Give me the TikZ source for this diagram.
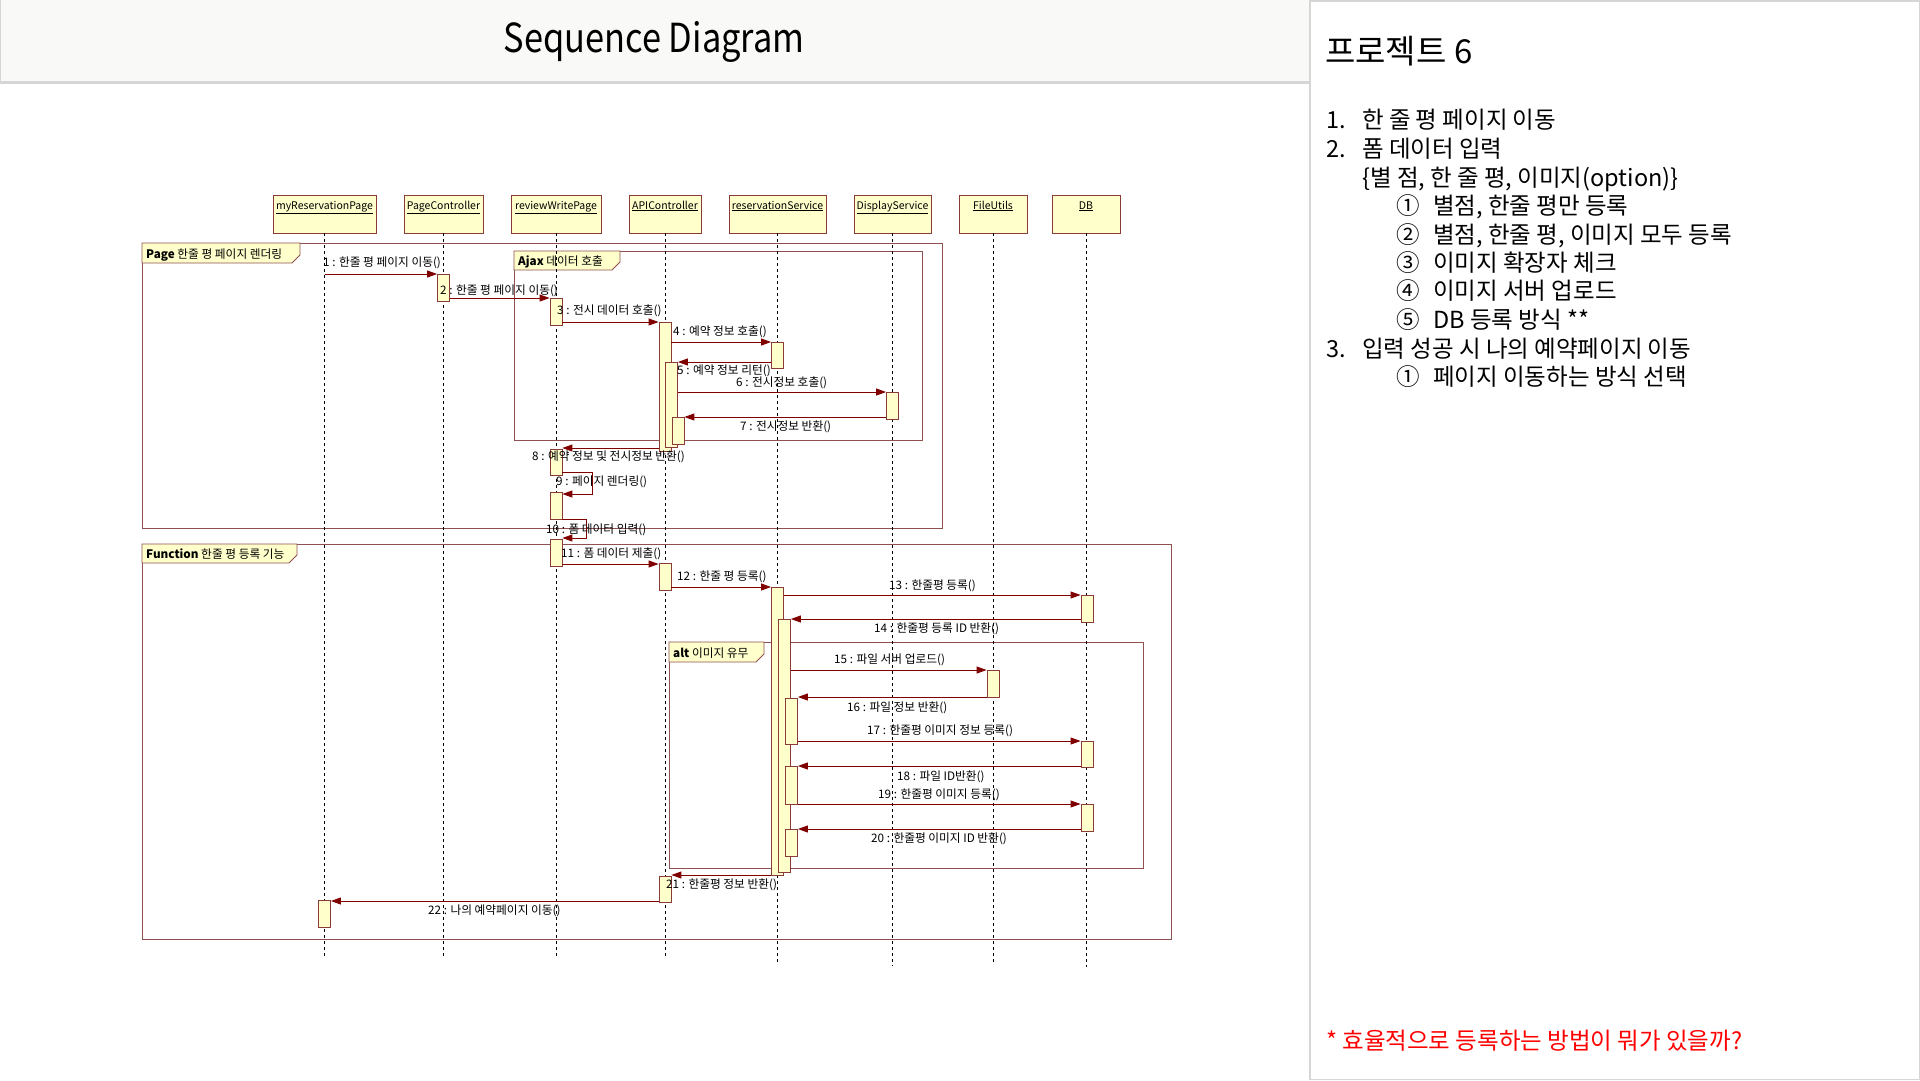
\documentclass[tikz,border=0pt]{standalone}
\usepackage{fontspec}
\setmainfont{Noto Sans CJK KR}
\usetikzlibrary{arrows.meta, positioning}
\definecolor{sqfill}{HTML}{FFFFCC}
\definecolor{sqline}{HTML}{8B3A3A}
\definecolor{sqmsg}{HTML}{800000}
\definecolor{sqframe}{HTML}{8F5050}
\definecolor{panelgrey}{HTML}{D6D6D6}
\definecolor{titlebg}{HTML}{F9F9F8}
\definecolor{notered}{HTML}{FF0000}
\tikzset{
  head/.style={draw=sqline, fill=sqfill, line width=0.9pt, inner sep=0pt, minimum height=38pt,
               text height=10pt, text depth=20pt, font=\fontsize{10.5}{12}\selectfont},
  act/.style={draw=sqline, fill=sqfill, line width=0.8pt, minimum width=12pt, inner sep=0pt},
  life/.style={black, line width=0.8pt, dash pattern=on 3pt off 3pt},
  msg/.style={sqmsg, line width=0.9pt, -{Triangle[length=10pt, width=7pt]}},
  lbl/.style={anchor=base west, inner sep=0pt, font=\fontsize{11.7}{13}\selectfont},
  fr/.style={draw=sqframe, line width=0.9pt},
  memo/.style={anchor=base west, inner sep=0pt, font=\fontsize{23.5}{27}\selectfont}
}

\begin{document}
\begin{tikzpicture}[x=1pt, y=-1pt]
  \useasboundingbox (0,0) rectangle (1920,1080);
  \fill[white] (0,0) rectangle (1920,1080);
  % title bar
  \fill[titlebg] (0,0) rectangle (1310,82);
  \draw[panelgrey, line width=3pt] (0,82) -- (1310,82);
  \draw[panelgrey, line width=1pt] (0.5,0) -- (0.5,82);
  \node[anchor=base, inner sep=0pt, xscale=0.86, font=\fontsize{40}{44}\selectfont] (title) at (654,52) {Sequence Diagram};
  % memo panel
  \draw[panelgrey, line width=1.5pt] (1310,0.75) rectangle (1919.25,1079.25);
  \node[anchor=base west, inner sep=0pt, font=\fontsize{33}{38}\selectfont] (ptitle) at (1325,63) {프로젝트 6};
  \node[memo] (n1) at (1326,128) {1.};
  \node[memo] (i1) at (1362,128) {한 줄 평 페이지 이동};
  \node[memo] (n2) at (1326,157) {2.};
  \node[memo] (i2) at (1362,157) {폼 데이터 입력};
  \node[memo] (i2a) at (1362,186) {\{별 점, 한 줄 평, 이미지(option)\}};
  \node[memo] (c21) at (1396,214) {①};
  \node[memo] (i21) at (1433,214) {별점, 한줄 평만 등록};
  \node[memo] (c22) at (1396,243) {②};
  \node[memo] (i22) at (1433,243) {별점, 한줄 평, 이미지 모두 등록};
  \node[memo] (c23) at (1396,271) {③};
  \node[memo] (i23) at (1433,271) {이미지 확장자 체크};
  \node[memo] (c24) at (1396,299) {④};
  \node[memo] (i24) at (1433,299) {이미지 서버 업로드};
  \node[memo] (c25) at (1396,328) {⑤};
  \node[memo] (i25) at (1433,328) {DB 등록 방식 **};
  \node[memo] (n3) at (1326,357) {3.};
  \node[memo] (i3) at (1362,357) {입력 성공 시 나의 예약페이지 이동};
  \node[memo] (c31) at (1396,385) {①};
  \node[memo] (i31) at (1433,385) {페이지 이동하는 방식 선택};
  \node[memo, text=notered] (note) at (1326,1049) {* 효율적으로 등록하는 방법이 뭐가 있을까?};

  % frames
  \draw[fr] (142,243) rectangle (942,528);
  \draw[fr, fill=sqfill] (142,243) -- (300,243) -- (300,255) -- (292,263) -- (142,263) -- cycle;
  \node[lbl] (fpage) at (146,258) {\textbf{Page} 한줄 평 페이지 렌더링};
  \draw[fr] (514,251) rectangle (922,440);
  \draw[fr, fill=sqfill] (514,251) -- (620,251) -- (620,262) -- (612,270) -- (514,270) -- cycle;
  \node[lbl] (fajax) at (518,265) {\textbf{Ajax} 데이터 호출};
  \draw[fr] (142,544) rectangle (1171,939);
  \draw[fr, fill=sqfill] (142,544) -- (297,544) -- (297,555) -- (289,563) -- (142,563) -- cycle;
  \node[lbl] (ffunc) at (146,558) {\textbf{Function} 한줄 평 등록 기능};
  \draw[fr] (669,642) rectangle (1143,868);
  \draw[fr, fill=sqfill] (669,642) -- (764,642) -- (764,654) -- (756,662) -- (669,662) -- cycle;
  \node[lbl] (falt) at (673,657) {\textbf{alt} 이미지 유무};

  % lifelines
  \node[head, minimum width=103pt] (h1) at (324.5,214) {\underline{myReservationPage}};
  \node[head, minimum width=79pt] (h2) at (443.5,214) {\underline{PageController}};
  \node[head, minimum width=90pt] (h3) at (556,214) {\underline{reviewWritePage}};
  \node[head, minimum width=72pt] (h4) at (665,214) {\underline{APIController}};
  \node[head, minimum width=97pt] (h5) at (777.5,214) {\underline{reservationService}};
  \node[head, minimum width=77pt] (h6) at (892.5,214) {\underline{DisplayService}};
  \node[head, minimum width=68pt] (h7) at (993,214) {\underline{FileUtils}};
  \node[head, minimum width=68pt] (h8) at (1086,214) {\underline{DB}};
  \foreach \n/\e in {h1/956,h2/956,h3/956,h4/956,h5/962,h6/966,h7/964,h8/967}
    \draw[life] (\n.south) -- (\n.south |- 0,\e);

  % activations
  \node[act, minimum height=27pt] (r1) at (324.5,913.5) {};
  \node[act, minimum height=27pt] (p1) at (443.5,287.5) {};
  \node[act, minimum height=27pt] (w1) at (556,311.5) {};
  \node[act, minimum height=26pt] (w2) at (556,462) {};
  \node[act, minimum height=27pt] (w3) at (556,505.5) {};
  \node[act, minimum height=27pt] (w4) at (556,552.5) {};
  \node[act, minimum height=129pt] (c1) at (665,386.5) {};
  \node[act, minimum height=85pt] (c2) at (671.5,404.5) {};
  \node[act, minimum height=27pt] (c3) at (678,430.5) {};
  \node[act, minimum height=27pt] (c4) at (665,576.5) {};
  \node[act, minimum height=26pt] (c5) at (665,889) {};
  \node[act, minimum height=26pt] (s1) at (777.5,355) {};
  \node[act, minimum height=288pt] (s2) at (777.5,731) {};
  \node[act, minimum height=253pt] (s3) at (784.5,745.5) {};
  \node[act, minimum height=46pt] (s4) at (791.5,721) {};
  \node[act, minimum height=38pt] (s5) at (791.5,785) {};
  \node[act, minimum height=27pt] (s6) at (791.5,842.5) {};
  \node[act, minimum height=27pt] (d1) at (892.5,405.5) {};
  \node[act, minimum height=27pt] (f1) at (993,683.5) {};
  \node[act, minimum height=27pt] (b1) at (1087,608.5) {};
  \node[act, minimum height=26pt] (b2) at (1087,754) {};
  \node[act, minimum height=27pt] (b3) at (1087,817.5) {};

  % page rendering
  \draw[msg] (h1.south |- 0,274) -- (p1.west |- 0,274);
  \node[lbl] (l1) at (323,266) {1 : 한줄 평 페이지 이동()};
  \draw[msg] (p1.east |- 0,298) -- (w1.west |- 0,298);
  \node[lbl] (l2) at (440,294) {2 : 한줄 평 페이지 이동()};
  \draw[msg] (w1.east |- 0,322) -- (c1.west |- 0,322);
  \node[lbl] (l3) at (557,314) {3 : 전시 데이터 호출()};
  \draw[msg] (c1.east |- 0,342) -- (s1.west |- 0,342);
  \node[lbl] (l4) at (673,335) {4 : 예약 정보 호출()};
  \draw[msg] (s1.west |- 0,362) -- (c2.east |- 0,362);
  \node[lbl] (l5) at (677,374) {5 : 예약 정보 리턴()};
  \draw[msg] (c2.east |- 0,392) -- (d1.west |- 0,392);
  \node[lbl] (l6) at (736,386) {6 : 전시정보 호출()};
  \draw[msg] (d1.west |- 0,417) -- (c3.east |- 0,417);
  \node[lbl] (l7) at (740,430) {7 : 전시정보 반환()};
  \draw[msg] (c1.west |- 0,448) -- (w2.east |- 0,448);
  \node[lbl] (l8) at (532,460) {8 : 예약 정보 및 전시정보 반환()};
  \draw[msg] (w2.east |- 0,472) -| (592,494) -- (w3.east |- 0,494);
  \node[lbl] (l9) at (556,485) {9 : 페이지 렌더링()};
  \draw[msg] (w3.east |- 0,519) -| (586,538) -- (w4.east |- 0,538);
  \node[lbl] (l10) at (546,533) {10 : 폼 데이터 입력()};
  % review registration
  \draw[msg] (w4.east |- 0,564) -- (c4.west |- 0,564);
  \node[lbl] (l11) at (561,557) {11 : 폼 데이터 제출()};
  \draw[msg] (c4.east |- 0,587) -- (s2.west |- 0,587);
  \node[lbl] (l12) at (677,580) {12 : 한줄 평 등록()};
  \draw[msg] (s2.east |- 0,595) -- (b1.west |- 0,595);
  \node[lbl] (l13) at (889,589) {13 : 한줄평 등록()};
  \draw[msg] (b1.west |- 0,619) -- (s3.east |- 0,619);
  \node[lbl] (l14) at (874,632) {14 : 한줄평 등록 ID 반환()};
  \draw[msg] (s3.east |- 0,670) -- (f1.west |- 0,670);
  \node[lbl] (l15) at (834,663) {15 : 파일 서버 업로드()};
  \draw[msg] (f1.west |- 0,697) -- (s4.east |- 0,697);
  \node[lbl] (l16) at (847,711) {16 : 파일 정보 반환()};
  \draw[msg] (s4.east |- 0,741) -- (b2.west |- 0,741);
  \node[lbl] (l17) at (867,734) {17 : 한줄평 이미지 정보 등록()};
  \draw[msg] (b2.west |- 0,766) -- (s5.east |- 0,766);
  \node[lbl] (l18) at (897,780) {18 : 파일 ID반환()};
  \draw[msg] (s5.east |- 0,804) -- (b3.west |- 0,804);
  \node[lbl] (l19) at (878,798) {19 : 한줄평 이미지 등록()};
  \draw[msg] (b3.west |- 0,829) -- (s6.east |- 0,829);
  \node[lbl] (l20) at (871,842) {20 : 한줄평 이미지 ID 반환()};
  \draw[msg] (s2.west |- 0,875) -- (c5.east |- 0,875);
  \node[lbl] (l21) at (666,888) {21 : 한줄평 정보 반환()};
  \draw[msg] (c5.west |- 0,901) -- (r1.east |- 0,901);
  \node[lbl] (l22) at (428,914) {22 : 나의 예약페이지 이동()};
\end{tikzpicture}
\end{document}
